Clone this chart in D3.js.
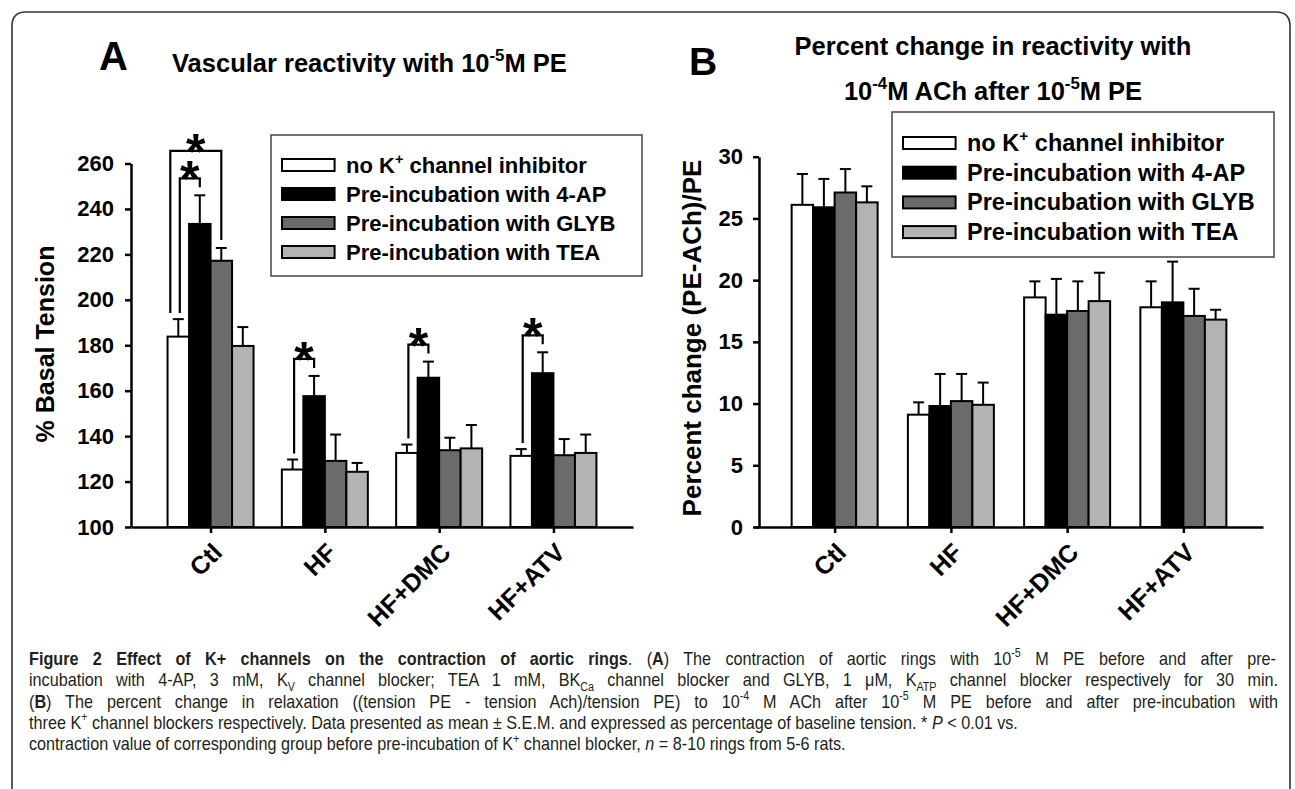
<!DOCTYPE html>
<html>
<head>
<meta charset="utf-8">
<script src="https://cdn.jsdelivr.net/npm/d3@7"></script>
<style>
  body { margin: 0; background: #fff; }
  svg text { font-family: "Liberation Sans", Arial, sans-serif; }
</style>
</head>
<body>
<script>
const WIDTH = 1295
const HEIGHT = 789

const categories = ['Ctl', 'HF', 'HF+DMC', 'HF+ATV']
const seriesNames = ['no K', 'Pre-incubation with 4-AP', 'Pre-incubation with GLYB', 'Pre-incubation with TEA']
const colors = ['#ffffff', '#000000', '#6b6b6b', '#b3b3b3']

// A : % basal tension (mean, SEM)
const aNone = [183.8, 125.3, 132.6, 131.3]
const aNoneErr = [7.7, 4.4, 3.7, 3.0]
const a4AP = [233.4, 157.6, 165.7, 167.7]
const a4APErr = [12.6, 8.9, 7.1, 9.2]
const aGLYB = [217.2, 129.1, 133.8, 131.6]
const aGLYBErr = [5.6, 11.6, 5.5, 7.1]
const aTEA = [179.7, 124.3, 134.6, 132.6]
const aTEAErr = [8.3, 3.9, 10.3, 8.1]
const aTicks = [100, 120, 140, 160, 180, 200, 220, 240, 260]

// B : percent change (PE-ACh)/PE (mean, SEM)
const bNone = [26.1, 9.1, 18.6, 17.8]
const bNoneErr = [2.5, 1.0, 1.3, 2.1]
const b4AP = [25.9, 9.8, 17.2, 18.2]
const b4APErr = [2.3, 2.6, 2.9, 3.3]
const bGLYB = [27.1, 10.2, 17.5, 17.1]
const bGLYBErr = [1.9, 2.2, 2.4, 2.2]
const bTEA = [26.3, 9.9, 18.3, 16.8]
const bTEAErr = [1.3, 1.8, 2.3, 0.8]
const bTicks = [0, 5, 10, 15, 20, 25, 30]

// brackets with a star in A : [group, from series, to series, level]
const sigA = [[0, 0, 1, 0], [0, 0, 2, 1], [1, 0, 1, 0], [2, 0, 1, 0], [3, 0, 1, 0]]

const BASE_Y = 527
const BAR_W = 21.5

const svg = d3.select('body').append('svg').attr('width', WIDTH).attr('height', HEIGHT)

// cadre arrondi
svg.append('path')
    .attr('d', 'M12,800 L12,26 Q12,12 26,12 L1276,12 Q1290,12 1290,26 L1290,800')
    .attr('fill', 'none').attr('stroke', '#333').attr('stroke-width', 1.6)

// texte avec exposants / indices
function richText(sel, parts, size) {
    let off = 0
    parts.forEach(p => {
        const t = sel.append('tspan').text(p[0])
        const kind = p[1] || ''
        let target = 0
        if (kind === 'sup') { target = -size * 0.42; t.attr('font-size', size * 0.66) }
        if (kind === 'sub') { target = size * 0.25; t.attr('font-size', size * 0.66) }
        if (kind === 'b') t.attr('font-weight', 'bold')
        if (kind === 'i') t.attr('font-style', 'italic')
        if (target !== off) { t.attr('dy', target - off); off = target }
    })
}

function panel(cfg) {
    const g = svg.append('g')
    const x = d3.scalePoint().domain(categories).range(cfg.xRange).padding(cfg.pad)
    const inner = d3.scaleBand().domain(d3.range(4)).range([-2 * BAR_W, 2 * BAR_W])
    const y = d3.scaleLinear().domain(cfg.yDomain).range([BASE_Y, cfg.yTop])

    const rows = []
    cfg.series.forEach((s, si) => s.forEach((v, ci) => rows.push({ si, ci, v, e: cfg.errs[si][ci] })))

    // barres d'erreur (vers le haut seulement)
    const eb = g.append('g').attr('stroke', '#000').attr('stroke-width', 2)
    eb.selectAll('line.v').data(rows).enter().append('line')
        .attr('x1', d => x(categories[d.ci]) + inner(d.si) + BAR_W / 2)
        .attr('x2', d => x(categories[d.ci]) + inner(d.si) + BAR_W / 2)
        .attr('y1', d => y(d.v)).attr('y2', d => y(d.v + d.e))
    eb.selectAll('line.c').data(rows).enter().append('line')
        .attr('x1', d => x(categories[d.ci]) + inner(d.si) + BAR_W / 2 - 5.5)
        .attr('x2', d => x(categories[d.ci]) + inner(d.si) + BAR_W / 2 + 5.5)
        .attr('y1', d => y(d.v + d.e)).attr('y2', d => y(d.v + d.e))

    g.append('g').selectAll('rect').data(rows).enter().append('rect')
        .attr('x', d => x(categories[d.ci]) + inner(d.si))
        .attr('width', BAR_W)
        .attr('y', d => y(d.v))
        .attr('height', d => BASE_Y - y(d.v))
        .attr('fill', d => colors[d.si])
        .attr('stroke', '#000').attr('stroke-width', 2)

    // axes
    const ay = g.append('g').attr('transform', `translate(${cfg.yAxisX},0)`)
        .call(d3.axisLeft(y).tickValues(cfg.ticks).tickSizeInner(6).tickSizeOuter(0).tickPadding(cfg.tickPad))
    g.append('g').attr('transform', `translate(0,${BASE_Y})`)
        .call(d3.axisBottom(x).tickSizeInner(6).tickSizeOuter(0).tickFormat(''))
    g.selectAll('.domain, .tick line').attr('stroke', '#000').attr('stroke-width', 2.5)
    ay.selectAll('text').attr('font-size', 22).attr('font-weight', 'bold')
        .attr('font-family', '"Liberation Sans", Arial, sans-serif').attr('fill', '#000')

    g.append('g').selectAll('text').data(categories).enter().append('text')
        .attr('text-anchor', 'end')
        .attr('font-size', 25).attr('font-weight', 'bold')
        .attr('transform', d => `translate(${x(d) + 13},${BASE_Y + 27}) rotate(-45)`)
        .text(d => d)

    g.append('text')
        .attr('transform', `translate(${cfg.yLabelX},${cfg.yLabelY}) rotate(-90)`)
        .attr('text-anchor', 'middle').attr('font-size', cfg.yLabelSize).attr('font-weight', 'bold')
        .text(cfg.yLabel)

    // légende
    const lg = g.append('g')
    lg.append('rect').attr('x', cfg.legend[0]).attr('y', cfg.legend[1])
        .attr('width', cfg.legend[2]).attr('height', cfg.legend[3])
        .attr('fill', '#fff').attr('stroke', '#444').attr('stroke-width', 1.5)
    seriesNames.forEach((n, i) => {
        const cy = cfg.legend[1] + cfg.legendFirst + i * cfg.legendStep
        lg.append('rect').attr('x', cfg.legend[0] + 11).attr('y', cy - 6)
            .attr('width', 52.6).attr('height', 12)
            .attr('fill', colors[i]).attr('stroke', '#000').attr('stroke-width', 2)
        const t = lg.append('text').attr('x', cfg.legend[0] + 75).attr('y', cy + 8)
            .attr('font-size', cfg.legendSize).attr('font-weight', 'bold')
        if (i === 0) richText(t, [['no K'], ['+', 'sup'], [' channel inhibitor']], cfg.legendSize)
        else t.text(n)
    })
    return { x, y, inner, g }
}

const A = panel({
    xRange: [131, 633], pad: 0.696, yDomain: [100, 260], yTop: 163.5, yAxisX: 131,
    ticks: aTicks, tickPad: 11,
    series: [aNone, a4AP, aGLYB, aTEA], errs: [aNoneErr, a4APErr, aGLYBErr, aTEAErr],
    yLabel: '% Basal Tension', yLabelX: 54, yLabelY: 344, yLabelSize: 25,
    legend: [271, 135, 371, 141], legendFirst: 30, legendStep: 29, legendSize: 22
})

const B = panel({
    xRange: [755, 1263], pad: 0.685, yDomain: [0, 30], yTop: 156.7, yAxisX: 759,
    ticks: bTicks, tickPad: 10,
    series: [bNone, b4AP, bGLYB, bTEA], errs: [bNoneErr, b4APErr, bGLYBErr, bTEAErr],
    yLabel: 'Percent change (PE-ACh)/PE', yLabelX: 701, yLabelY: 338, yLabelSize: 26,
    legend: [892, 112, 382, 145], legendFirst: 31, legendStep: 29.7, legendSize: 23.5
})

// crochets de significativité
const aSeries = [aNone, a4AP, aGLYB, aTEA]
const aErrs = [aNoneErr, a4APErr, aGLYBErr, aTEAErr]
const capY = (si, ci) => A.y(aSeries[si][ci] + aErrs[si][ci])
const sig = A.g.append('g')
sigA.forEach(([ci, s0, s1, lvl]) => {
    const cx = A.x(categories[ci])
    const xl = cx + A.inner(s0) + BAR_W / 2 + (lvl ? -8 : 1.5)
    const xr = cx + A.inner(s1) + BAR_W / 2
    const yh = capY(1, ci) - 17 - lvl * 27.5
    sig.append('path')
        .attr('d', `M${xl},${capY(s0, ci) - 6} V${yh} H${xr} V${capY(s1, ci) - 8}`)
        .attr('fill', 'none').attr('stroke', '#000').attr('stroke-width', 2.2)
    sig.append('text').attr('x', (xl + xr) / 2).attr('y', yh + 18)
        .attr('text-anchor', 'middle').attr('font-size', 50).attr('font-weight', 'bold')
        .text('*')
})

// titres
svg.append('text').attr('x', 99).attr('y', 70).attr('font-size', 40).attr('font-weight', 'bold').text('A')
richText(svg.append('text').attr('x', 172).attr('y', 71.5).attr('font-size', 25.5).attr('font-weight', 'bold'),
    [['Vascular reactivity with 10'], ['-5', 'sup'], ['M PE']], 25.5)
svg.append('text').attr('x', 689).attr('y', 75).attr('font-size', 39).attr('font-weight', 'bold').text('B')
svg.append('text').attr('x', 993).attr('y', 55).attr('text-anchor', 'middle')
    .attr('font-size', 25.5).attr('font-weight', 'bold').text('Percent change in reactivity with')
richText(svg.append('text').attr('x', 993).attr('y', 100).attr('text-anchor', 'middle')
    .attr('font-size', 25.5).attr('font-weight', 'bold'),
    [['10'], ['-4', 'sup'], ['M ACh after 10'], ['-5', 'sup'], ['M PE']], 25.5)

// légende de la figure : police resserrée, 3 premières lignes justifiées (espaces entre mots)
const CAP_SX = 0.9
const caption = [
    [[['Figure 2 Effect of K+ channels on the contraction of aortic rings', 'b'], ['. ('], ['A', 'b'], [') The contraction of aortic rings with 10'], ['-5', 'sup'], [' M PE before and after pre-']], 1276],
    [[['incubation with 4-AP, 3 mM, K'], ['V', 'sub'], [' channel blocker; TEA 1 mM, BK'], ['Ca', 'sub'], [' channel blocker and GLYB, 1 μM, K'], ['ATP', 'sub'], [' channel blocker respectively for 30 min.']], 1278],
    [[['('], ['B', 'b'], [') The percent change in relaxation ((tension PE - tension Ach)/tension PE) to 10'], ['-4', 'sup'], [' M ACh after 10'], ['-5', 'sup'], [' M PE before and after pre-incubation with']], 1278],
    [[['three K'], ['+', 'sup'], [' channel blockers respectively. Data presented as mean ± S.E.M. and expressed as percentage of baseline tension. * '], ['P', 'i'], [' < 0.01 vs.']], 0],
    [[['contraction value of corresponding group before pre-incubation of K'], ['+', 'sup'], [' channel blocker, '], ['n', 'i'], [' = 8-10 rings from 5-6 rats.']], 0]
]
const capG = svg.append('g').attr('transform', `translate(29,0) scale(${CAP_SX},1)`)
caption.forEach((line, i) => {
    const t = capG.append('text').attr('x', 0).attr('y', 665 + i * 21.3)
        .attr('font-size', 18).attr('fill', '#231f20')
    richText(t, line[0], 18)
    if (line[1]) {
        const natural = t.node().getComputedTextLength()
        const spaces = line[0].map(p => p[0]).join('').split(' ').length - 1
        const extra = ((line[1] - 29) / CAP_SX - natural) / spaces
        t.attr('word-spacing', extra)
    }
})
</script>
</body>
</html>
